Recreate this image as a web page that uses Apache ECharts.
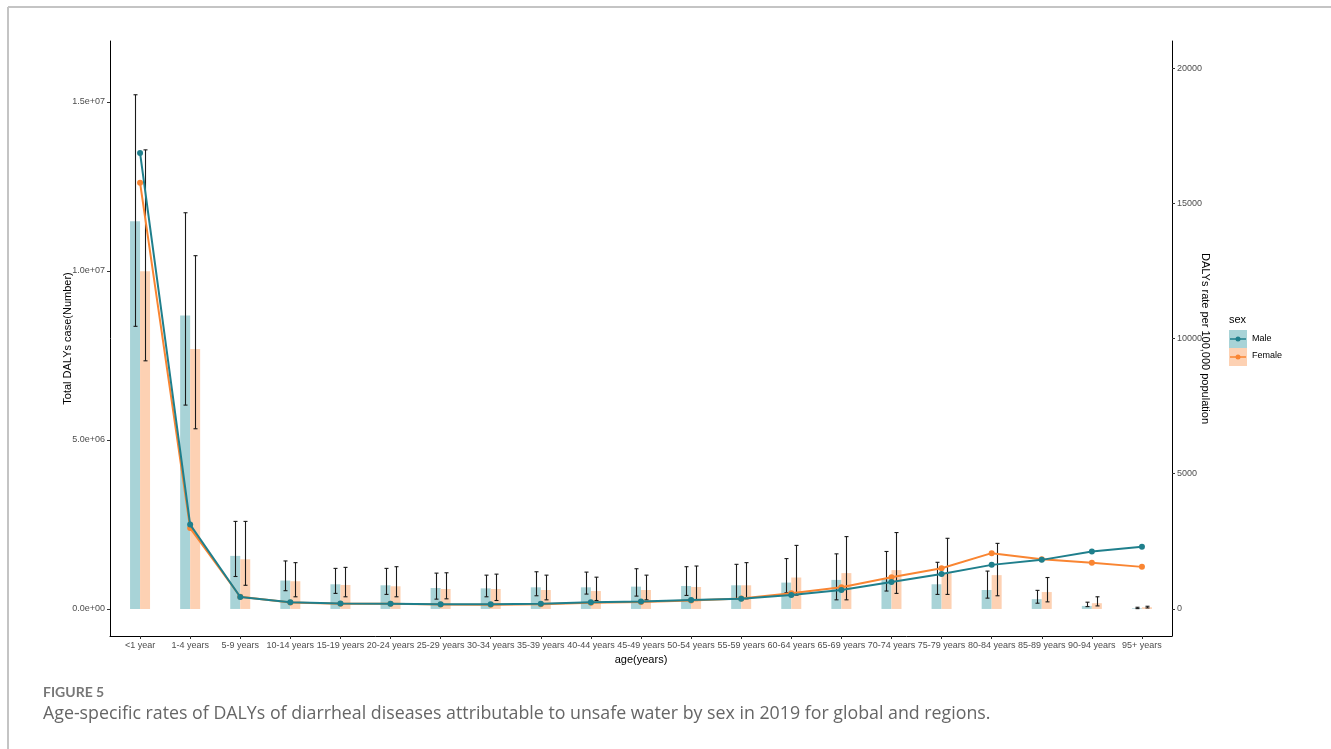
<!DOCTYPE html>
<html>
<head>
<meta charset="utf-8">
<title>DALYs of diarrheal diseases by age and sex, 2019</title>
<script src="https://cdn.jsdelivr.net/npm/echarts@6/dist/echarts.min.js"></script>
<style>
  html, body { margin: 0; padding: 0; background: #ffffff; }
  #chart { width: 1331px; height: 749px; }
</style>
</head>
<body>
<div id="chart"></div>
<script>
// Age groups on the x axis
const categories = ['<1 year', '1-4 years', '5-9 years', '10-14 years', '15-19 years', '20-24 years',
  '25-29 years', '30-34 years', '35-39 years', '40-44 years', '45-49 years', '50-54 years',
  '55-59 years', '60-64 years', '65-69 years', '70-74 years', '75-79 years', '80-84 years',
  '85-89 years', '90-94 years', '95+ years'];

// Total DALYs (number), bars on the left axis
const maleCases   = [11.47e6, 8.68e6, 1.57e6, 0.84e6, 0.73e6, 0.70e6, 0.62e6, 0.61e6, 0.64e6, 0.64e6, 0.66e6,
  0.68e6, 0.70e6, 0.78e6, 0.86e6, 0.88e6, 0.73e6, 0.56e6, 0.29e6, 0.09e6, 0.02e6];
const femaleCases = [9.99e6, 7.69e6, 1.47e6, 0.82e6, 0.71e6, 0.67e6, 0.59e6, 0.59e6, 0.56e6, 0.53e6, 0.56e6,
  0.65e6, 0.70e6, 0.93e6, 1.06e6, 1.15e6, 1.06e6, 1.00e6, 0.50e6, 0.17e6, 0.05e6];

// 95% uncertainty intervals of the totals
const maleLow   = [8.36e6, 6.03e6, 0.96e6, 0.54e6, 0.46e6, 0.43e6, 0.29e6, 0.36e6, 0.39e6, 0.44e6, 0.38e6,
  0.40e6, 0.30e6, 0.48e6, 0.27e6, 0.53e6, 0.43e6, 0.32e6, 0.17e6, 0.07e6, 0.01e6];
const maleHigh  = [15.21e6, 11.72e6, 2.59e6, 1.42e6, 1.20e6, 1.20e6, 1.06e6, 1.00e6, 1.10e6, 1.09e6, 1.19e6,
  1.25e6, 1.32e6, 1.49e6, 1.63e6, 1.70e6, 1.38e6, 1.12e6, 0.55e6, 0.20e6, 0.05e6];
const femaleLow  = [7.34e6, 5.33e6, 0.70e6, 0.36e6, 0.36e6, 0.36e6, 0.30e6, 0.25e6, 0.27e6, 0.25e6, 0.27e6,
  0.25e6, 0.30e6, 0.41e6, 0.27e6, 0.46e6, 0.43e6, 0.39e6, 0.21e6, 0.09e6, 0.03e6];
const femaleHigh = [13.58e6, 10.45e6, 2.59e6, 1.37e6, 1.23e6, 1.25e6, 1.07e6, 1.03e6, 1.00e6, 0.94e6, 1.00e6,
  1.27e6, 1.37e6, 1.88e6, 2.14e6, 2.26e6, 2.09e6, 1.94e6, 0.93e6, 0.36e6, 0.08e6];

// DALYs rate per 100,000 population, lines on the right axis
const maleRate   = [16860, 3119, 440, 245, 200, 195, 175, 172, 195, 245, 275,
  333, 381, 519, 704, 1000, 1296, 1630, 1815, 2122, 2296];
const femaleRate = [15763, 2989, 450, 240, 195, 190, 165, 160, 175, 225, 255,
  315, 389, 581, 804, 1174, 1507, 2063, 1841, 1704, 1556];

// Tick values of both y axes
const leftTicks  = [0, 5e6, 10e6, 15e6];
const rightTicks = [0, 5000, 10000, 15000, 20000];

const TEAL_BAR = '#a8d3d7';
const ORANGE_BAR = '#fdd1b3';
const TEAL = '#1f7f8c';
const ORANGE = '#f98532';
const BAR_W = 10;
const TICK_FONT = "'Liberation Sans', Arial, sans-serif";

function sci(v) {
  if (v === 0) return '0.0e+00';
  const e = Math.floor(Math.log10(Math.abs(v)) + 1e-9);
  const m = v / Math.pow(10, e);
  return m.toFixed(1) + 'e+' + String(e).padStart(2, '0');
}

const xs = categories.map((_, i) => i + 1);

function errorSeries(name, low, high, offset) {
  return {
    name: name,
    type: 'custom',
    yAxisIndex: 0,
    z: 4,
    data: xs.map((x, i) => [x, low[i], high[i]]),
    renderItem: function (params, api) {
      const pLo = api.coord([api.value(0), api.value(1)]);
      const pHi = api.coord([api.value(0), api.value(2)]);
      const cx = Math.round(pLo[0] + offset) + 0.5;
      const st = { stroke: '#1a1a1a', lineWidth: 1.1 };
      return {
        type: 'group',
        children: [
          { type: 'line', shape: { x1: cx, y1: pLo[1], x2: cx, y2: pHi[1] }, style: st },
          { type: 'line', shape: { x1: cx - 2, y1: pHi[1], x2: cx + 2, y2: pHi[1] }, style: st },
          { type: 'line', shape: { x1: cx - 2, y1: pLo[1], x2: cx + 2, y2: pLo[1] }, style: st }
        ]
      };
    }
  };
}

const chart = echarts.init(document.getElementById('chart'), null, { renderer: 'canvas' });

const legendX = 1229;
const option = {
  backgroundColor: '#ffffff',
  animation: false,
  grid: { left: 110, right: 159, top: 41, bottom: 113, containLabel: false },
  xAxis: {
    type: 'value',
    min: 0.4,
    max: 21.6,
    name: 'age(years)',
    nameLocation: 'middle',
    nameGap: 17,
    nameTextStyle: { fontFamily: TICK_FONT, fontSize: 11, color: '#000' },
    axisLine: { show: true, onZero: false, lineStyle: { color: '#000', width: 1 } },
    axisTick: { show: true, length: 3, customValues: xs, lineStyle: { color: '#333' } },
    axisLabel: {
      customValues: xs,
      formatter: v => categories[Math.round(v) - 1],
      fontFamily: TICK_FONT, fontSize: 9, color: '#4d4d4d', margin: 5
    },
    splitLine: { show: false }
  },
  yAxis: [
    {
      type: 'value',
      min: -800000,
      max: 16800000,
      position: 'left',
      name: 'Total DALYs case(Number)',
      nameLocation: 'middle',
      nameGap: 37,
      nameMoveOverlap: false,
      nameRotate: 90,
      nameTextStyle: { fontFamily: TICK_FONT, fontSize: 11, color: '#000' },
      axisLine: { show: true, onZero: false, lineStyle: { color: '#000', width: 1 } },
      axisTick: { show: true, length: 3, customValues: leftTicks, lineStyle: { color: '#333' } },
      axisLabel: {
        customValues: leftTicks,
        formatter: v => sci(v),
        fontFamily: TICK_FONT, fontSize: 9, color: '#4d4d4d', margin: 5
      },
      splitLine: { show: false }
    },
    {
      type: 'value',
      min: -1000,
      max: 21000,
      position: 'right',
      name: 'DALYs rate per 100,000 population',
      nameLocation: 'middle',
      nameGap: 28,
      nameMoveOverlap: false,
      nameRotate: -90,
      nameTextStyle: { fontFamily: TICK_FONT, fontSize: 11, color: '#000' },
      axisLine: { show: true, onZero: false, lineStyle: { color: '#000', width: 1 } },
      axisTick: { show: true, length: 3, customValues: rightTicks, lineStyle: { color: '#333' } },
      axisLabel: {
        customValues: rightTicks,
        formatter: v => String(v),
        fontFamily: TICK_FONT, fontSize: 9, color: '#4d4d4d', margin: 5
      },
      splitLine: { show: false }
    }
  ],
  series: [
    {
      name: 'Male', type: 'bar', yAxisIndex: 0, barWidth: BAR_W, barGap: '0%',
      itemStyle: { color: TEAL_BAR }, z: 2,
      data: xs.map((x, i) => [x, maleCases[i]])
    },
    {
      name: 'Female', type: 'bar', yAxisIndex: 0, barWidth: BAR_W, barGap: '0%',
      itemStyle: { color: ORANGE_BAR }, z: 2,
      data: xs.map((x, i) => [x, femaleCases[i]])
    },
    errorSeries('Male UI', maleLow, maleHigh, -BAR_W / 2),
    errorSeries('Female UI', femaleLow, femaleHigh, BAR_W / 2),
    {
      name: 'Female rate', type: 'line', yAxisIndex: 1, z: 5,
      symbol: 'circle', symbolSize: 6,
      lineStyle: { color: ORANGE, width: 2 },
      itemStyle: { color: ORANGE },
      data: xs.map((x, i) => [x, femaleRate[i]])
    },
    {
      name: 'Male rate', type: 'line', yAxisIndex: 1, z: 6,
      symbol: 'circle', symbolSize: 6,
      lineStyle: { color: TEAL, width: 2 },
      itemStyle: { color: TEAL },
      data: xs.map((x, i) => [x, maleRate[i]])
    }
  ],
  graphic: [
    // page frame
    { type: 'line', shape: { x1: 8, y1: 7, x2: 1331, y2: 7 }, style: { stroke: '#c4c4c4', lineWidth: 2 } },
    { type: 'line', shape: { x1: 8, y1: 7, x2: 8, y2: 749 }, style: { stroke: '#c4c4c4', lineWidth: 2 } },
    // legend
    { type: 'text', left: legendX, top: 314, style: { text: 'sex', font: '11px ' + TICK_FONT, fill: '#000' } },
    { type: 'rect', shape: { x: legendX, y: 330, width: 18, height: 18 }, style: { fill: TEAL_BAR } },
    { type: 'rect', shape: { x: legendX, y: 348, width: 18, height: 18 }, style: { fill: ORANGE_BAR } },
    { type: 'line', shape: { x1: legendX + 1, y1: 339, x2: legendX + 17, y2: 339 }, style: { stroke: TEAL, lineWidth: 1.5 } },
    { type: 'circle', shape: { cx: legendX + 9, cy: 339, r: 2.5 }, style: { fill: TEAL } },
    { type: 'line', shape: { x1: legendX + 1, y1: 357, x2: legendX + 17, y2: 357 }, style: { stroke: ORANGE, lineWidth: 1.5 } },
    { type: 'circle', shape: { cx: legendX + 9, cy: 357, r: 2.5 }, style: { fill: ORANGE } },
    { type: 'text', left: legendX + 23, top: 334, style: { text: 'Male', font: '9px ' + TICK_FONT, fill: '#000' } },
    { type: 'text', left: legendX + 23, top: 351, style: { text: 'Female', font: '9px ' + TICK_FONT, fill: '#000' } },
    // caption
    { type: 'text', left: 43, top: 685, style: { text: 'FIGURE 5', font: "bold 14px Lato, sans-serif", fill: '#777777' } },
    { type: 'text', left: 43, top: 705, style: { text: 'Age-specific rates of DALYs of diarrheal diseases attributable to unsafe water by sex in 2019 for global and regions.', font: "17.8px 'Open Sans', sans-serif", fill: '#666666' } }
  ]
};

chart.setOption(option);
</script>
</body>
</html>
